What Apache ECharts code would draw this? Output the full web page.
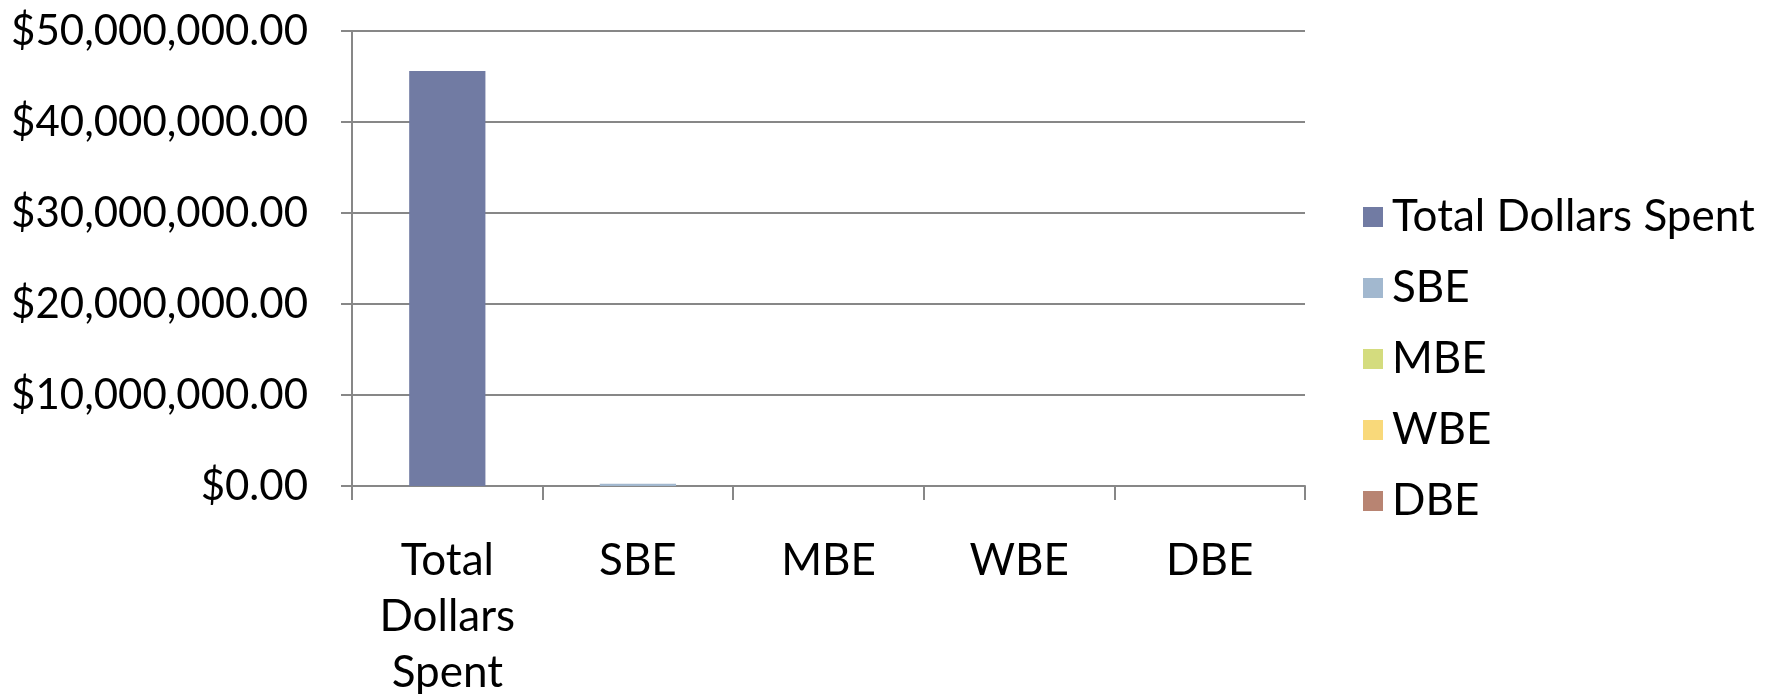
<!DOCTYPE html>
<html>
<head>
<meta charset="utf-8">
<script src="https://cdn.jsdelivr.net/npm/echarts@6/dist/echarts.min.js"></script>
<style>html,body{margin:0;padding:0;background:#fff}#c{width:1782px;height:694px}</style>
</head>
<body>
<div id="c"></div>
<script>
const categories = ['Total Dollars Spent', 'SBE', 'MBE', 'WBE', 'DBE'];
const categoryLabels = ['Total\nDollars\nSpent', 'SBE', 'MBE', 'WBE', 'DBE'];
const values = [45600000, 250000, 0, 0, 0];
const colors = ['#717BA3', '#A2B8CF', '#D4DC7E', '#F9D97A', '#B88472'];
const yTicks = { min: 0, max: 50000000, interval: 10000000 };

const FONT = 'Lato, "DejaVu Sans", sans-serif';
const series = categories.map((name, i) => ({
  name: name,
  type: 'bar',
  stack: 'all',
  barWidth: '40%',
  itemStyle: { color: colors[i] },
  data: categories.map((c, j) => (j === i ? values[i] : null))
}));

const chart = echarts.init(document.getElementById('c'));
chart.setOption({
  animation: false,
  backgroundColor: '#ffffff',
  grid: { left: 352, right: 477, top: 31, bottom: 208, containLabel: false, outerBoundsMode: 'none' },
  legend: {
    orient: 'vertical',
    left: 1358,
    top: 190,
    itemWidth: 20,
    itemHeight: 20,
    itemGap: 27,
    icon: 'rect',
    data: categories,
    textStyle: { fontFamily: FONT, fontSize: 44, color: '#000', lineHeight: 40, padding: [0, 0, 0, 4] }
  },
  xAxis: {
    type: 'category',
    data: categoryLabels,
    axisLine: { lineStyle: { color: '#878787', width: 2 } },
    axisTick: { show: true, length: 14, alignWithLabel: false, lineStyle: { color: '#878787', width: 2 } },
    axisLabel: { fontFamily: FONT, fontSize: 44, color: '#000', lineHeight: 56, margin: 47, interval: 0 }
  },
  yAxis: {
    type: 'value',
    min: yTicks.min,
    max: yTicks.max,
    interval: yTicks.interval,
    axisLine: { show: true, lineStyle: { color: '#878787', width: 2 } },
    axisTick: { show: true, length: 11, lineStyle: { color: '#878787', width: 2 } },
    splitLine: { show: true, lineStyle: { color: '#878787', width: 2 } },
    axisLabel: {
      fontFamily: FONT, fontSize: 42, color: '#000', margin: 44,
      formatter: v => '$' + v.toLocaleString('en-US', { minimumFractionDigits: 2, maximumFractionDigits: 2 })
    }
  },
  series: series
});
</script>
</body>
</html>
